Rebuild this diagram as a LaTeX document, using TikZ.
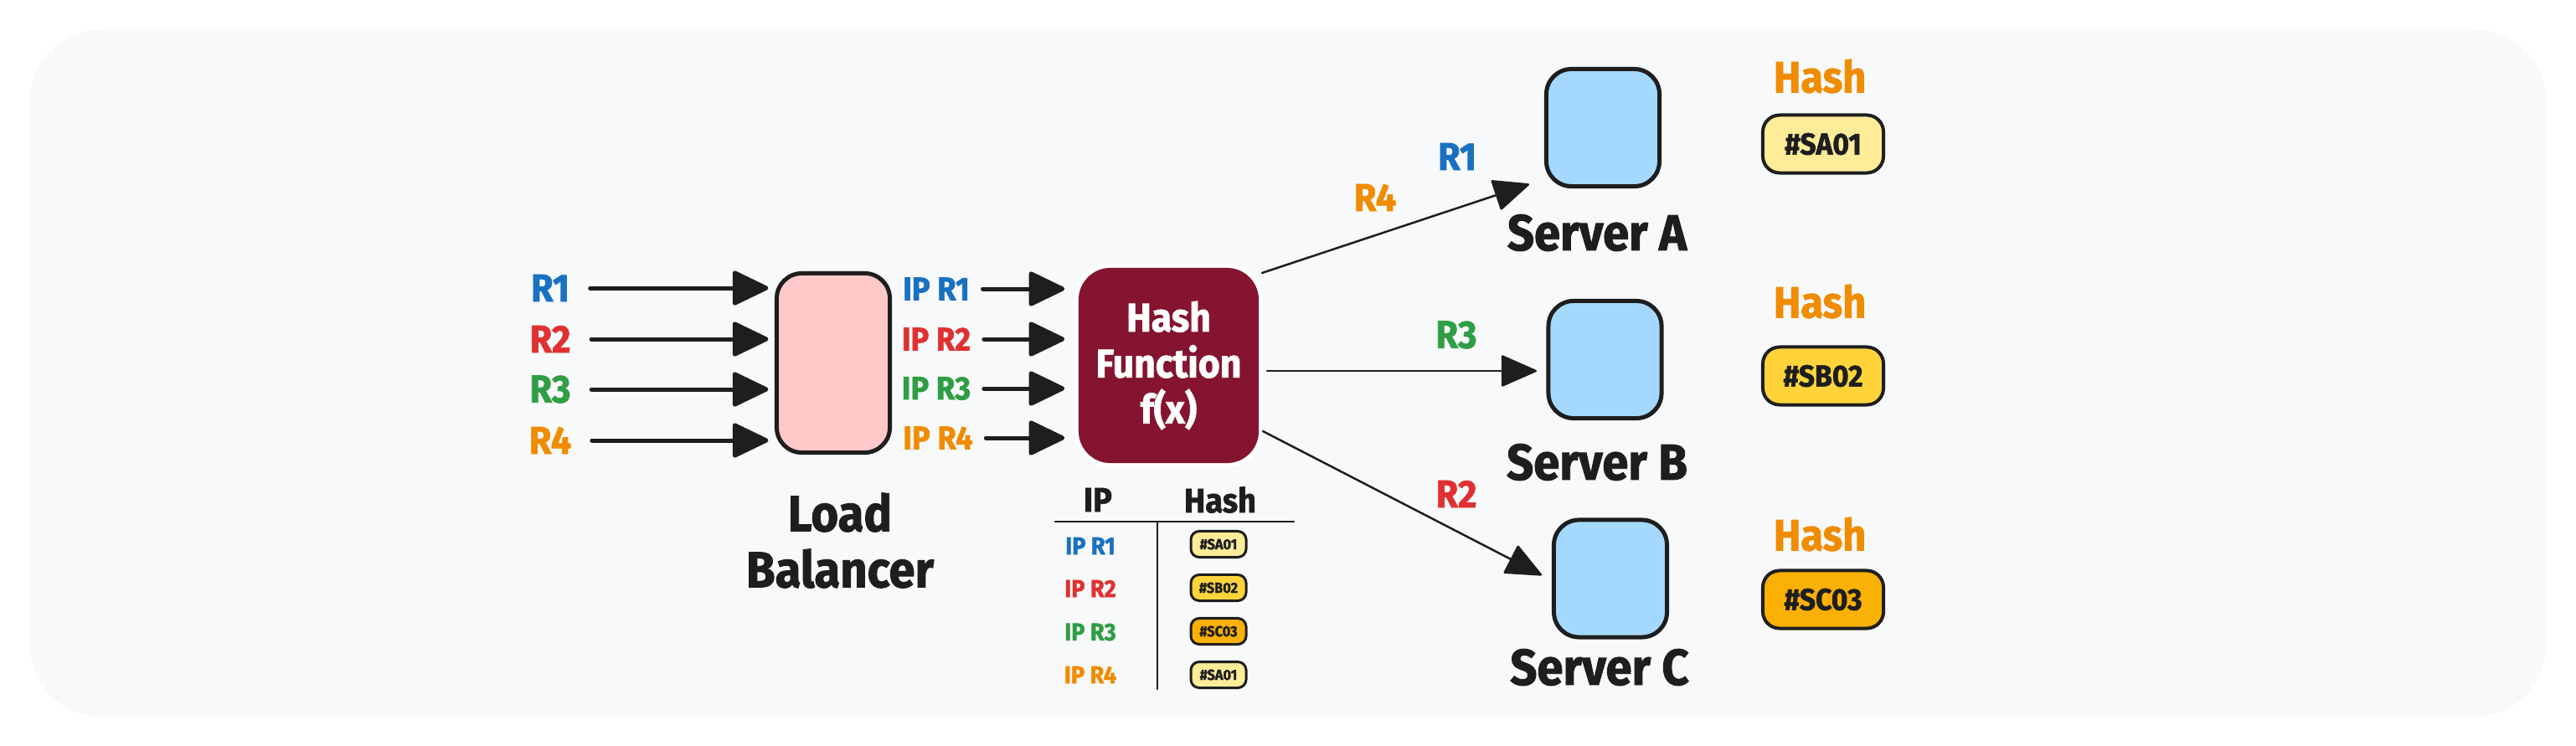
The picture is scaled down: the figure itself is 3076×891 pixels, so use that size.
\documentclass[tikz,border=0pt]{standalone}
\usepackage{fontspec}
\setmainfont{Fira Sans}[BoldFeatures={FakeBold=1.5,FakeStretch=0.93}]
\usetikzlibrary{arrows.meta,calc}
\definecolor{bgc}{HTML}{F8F9FA}
\definecolor{ink}{HTML}{1E1E1E}
\definecolor{cblue}{HTML}{1971C2}
\definecolor{cred}{HTML}{E03131}
\definecolor{cgreen}{HTML}{2F9E44}
\definecolor{corange}{HTML}{F08C00}
\definecolor{lbfill}{HTML}{FFC9C9}
\definecolor{srvfill}{HTML}{A5D8FF}
\definecolor{hffill}{HTML}{851430}
\definecolor{hA}{HTML}{FFEC99}
\definecolor{hB}{HTML}{FFD43B}
\definecolor{hC}{HTML}{FAB005}
\newcommand\fsBig{\fontsize{17.2pt}{19pt}\selectfont\bfseries}
\newcommand\fsR{\fontsize{13.2pt}{15pt}\selectfont\bfseries}
\newcommand\fsIP{\fontsize{11.1pt}{13pt}\selectfont\bfseries}
\newcommand\fsHF{\fontsize{13.6pt}{15.6pt}\selectfont\bfseries}
\newcommand\fsHash{\fontsize{14.9pt}{17pt}\selectfont\bfseries}
\newcommand\fsBadge{\fontsize{10.3pt}{12pt}\selectfont\bfseries}
\newcommand\fsTH{\fontsize{11.6pt}{13pt}\selectfont\bfseries}
\newcommand\fsTR{\fontsize{8.3pt}{10pt}\selectfont\bfseries}
\newcommand\fsTB{\fontsize{5pt}{6pt}\selectfont\bfseries}
\begin{document}
\begin{tikzpicture}[x=0.01cm,y=-0.01cm,
  txt/.style={inner sep=0pt, text=ink},
  rlbl/.style={inner sep=0pt, font=\fsR},
  iplbl/.style={inner sep=0pt, font=\fsIP},
  biglbl/.style={inner sep=0pt, text=ink, font=\fsBig},
  bigarrow/.style={draw=ink, line width=0.05cm, line cap=round,
    -{Triangle[length=0.46cm,width=0.43cm,round]}},
  thinarrow/.style={draw=ink, line width=0.025cm, line cap=round,
    -{Triangle[length=0.44cm,width=0.38cm,round]}},
  lbbox/.style={draw=ink, fill=lbfill, line width=0.05cm, rounded corners=0.3cm,
    minimum width=1.35cm, minimum height=2.14cm, inner sep=0pt},
  hfbox/.style={fill=hffill, rounded corners=0.38cm,
    preaction={draw=white, line width=0.1cm},
    minimum width=2.15cm, minimum height=2.33cm, inner sep=0pt,
    text=white, align=center, font=\fsHF},
  srvbox/.style={draw=ink, fill=srvfill, line width=0.05cm, rounded corners=0.3cm,
    minimum width=1.35cm, minimum height=1.40cm, inner sep=0pt},
  badge/.style={draw=ink, line width=0.04cm, rounded corners=0.2cm,
    minimum width=1.44cm, minimum height=0.69cm, inner sep=0pt,
    text=ink, font=\fsBadge},
  minibadge/.style={draw=ink, line width=0.03cm, rounded corners=0.1cm,
    minimum width=0.66cm, minimum height=0.31cm, inner sep=0pt,
    text=ink, font=\fsTB},
  hashlbl/.style={inner sep=0pt, text=corange, font=\fsHash},
  tline/.style={draw=ink, line width=0.027cm, line cap=round}
]
\useasboundingbox (0,0) rectangle (3076,891);
\fill[bgc, rounded corners=0.85cm] (36,35) rectangle (3040,856);

% ---- incoming requests
\node[rlbl, text=cblue]   (r1) at (657,344) {R1};
\node[rlbl, text=cred]    (r2) at (657,405) {R2};
\node[rlbl, text=cgreen]  (r3) at (657,465) {R3};
\node[rlbl, text=corange] (r4) at (657,526) {R4};

% ---- load balancer
\node[lbbox] (lb) at (995,433.5) {};
\node[biglbl] (lbt1) at (1003,612) {Load};
\node[biglbl] (lbt2) at (1003,679) {Balancer};

\foreach \i in {1,...,4}{
  \draw[bigarrow, shorten <=0.24cm, shorten >=0.075cm] (r\i.east) -- (r\i.east -| lb.west);
}

% ---- IP labels
\node[iplbl, text=cblue]   (ip1) at (1118,345) {IP R1};
\node[iplbl, text=cred]    (ip2) at (1118,405) {IP R2};
\node[iplbl, text=cgreen]  (ip3) at (1118,464) {IP R3};
\node[iplbl, text=corange] (ip4) at (1120,523) {IP R4};

% ---- hash function
\node[hfbox] (hf) at (1395.5,436.5) {Hash\\Function\\f(x)};

\foreach \i in {1,...,4}{
  \draw[bigarrow, shorten <=0.15cm, shorten >=0.16cm] (ip\i.east) -- (ip\i.east -| hf.west);
}

% ---- table
\node[txt, font=\fsTH] (thip)   at (1311,597) {IP};
\node[txt, font=\fsTH] (thhash) at (1457,597) {Hash};
\draw[tline] (1260,623) -- (1545,623);
\draw[tline] (1382,623) -- (1382,823);
\node[inner sep=0pt, font=\fsTR, text=cblue]   (tr1) at (1302,652) {IP R1};
\node[inner sep=0pt, font=\fsTR, text=cred]    (tr2) at (1302,703) {IP R2};
\node[inner sep=0pt, font=\fsTR, text=cgreen]  (tr3) at (1302,755) {IP R3};
\node[inner sep=0pt, font=\fsTR, text=corange] (tr4) at (1302,806) {IP R4};
\node[minibadge, fill=hA] (tb1) at (1455,650) {\#SA01};
\node[minibadge, fill=hB] (tb2) at (1455,702) {\#SB02};
\node[minibadge, fill=hC] (tb3) at (1455,754) {\#SC03};
\node[minibadge, fill=hA] (tb4) at (1455,806) {\#SA01};

% ---- servers
\node[srvbox] (sa) at (1914,152.5) {};
\node[srvbox] (sb) at (1916.5,429.5) {};
\node[srvbox] (sc) at (1923,691) {};
\node[biglbl] (sat) at (1907,278) {Server A};
\node[biglbl] (sbt) at (1907,552) {Server B};
\node[biglbl] (sct) at (1910,797) {Server C};

% ---- routing arrows
\coordinate (hfA) at (1507,326);
\coordinate (hfB) at (1513,443);
\coordinate (hfC) at (1508,515);
\coordinate (inA) at (1826,220);
\coordinate (inB) at (1835,443);
\coordinate (inC) at (1841,687);
\draw[thinarrow] (hfA) -- (inA);
\draw[thinarrow] (hfB) -- (inB);
\draw[thinarrow] (hfC) -- (inC);

\node[rlbl, text=corange] (oR4) at (1642,236) {R4};
\node[rlbl, text=cblue]   (oR1) at (1740,187) {R1};
\node[rlbl, text=cgreen]  (oR3) at (1739,400) {R3};
\node[rlbl, text=cred]    (oR2) at (1739,590) {R2};

% ---- server hashes
\node[hashlbl] (ha) at (2173,91)  {Hash};
\node[hashlbl] (hb) at (2173,360) {Hash};
\node[hashlbl] (hc) at (2173,638) {Hash};
\node[badge, fill=hA] (ba) at (2177,172) {\#SA01};
\node[badge, fill=hB] (bb) at (2177,449) {\#SB02};
\node[badge, fill=hC] (bc) at (2177,716) {\#SC03};
\end{tikzpicture}
\end{document}
